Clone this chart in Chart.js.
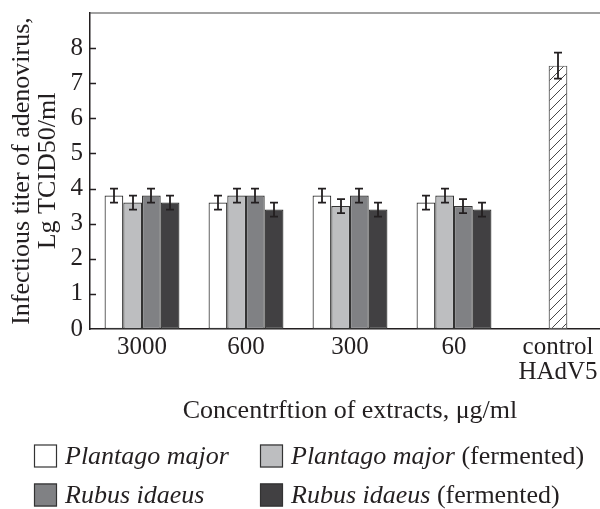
<!DOCTYPE html>
<html>
<head>
<meta charset="utf-8">
<script src="https://cdn.jsdelivr.net/npm/chart.js@4/dist/chart.umd.min.js"></script>
<style>
  html, body { margin: 0; padding: 0; background: #fff; overflow: hidden; }
  #wrap { width: 600px; height: 509px; overflow: hidden; }
  canvas { display: block; }
</style>
</head>
<body>
<div id="wrap"><canvas id="chart" width="610" height="509"></canvas></div>
<script>
// Categories and values (Lg TCID50/ml)
const categories = ['3000', '600', '300', '60', ['control', 'HAdV5']];
const plantago     = [3.8, 3.6, 3.8, 3.6, null];
const plantagoFerm = [3.6, 3.8, 3.5, 3.8, null];
const rubus        = [3.8, 3.8, 3.8, 3.5, null];
const rubusFerm    = [3.6, 3.4, 3.4, 3.4, null];
const control      = [null, null, null, null, 7.5];
const plantagoErr     = [0.2, 0.2, 0.2, 0.2, null];
const plantagoFermErr = [0.2, 0.2, 0.2, 0.2, null];
const rubusErr        = [0.2, 0.2, 0.2, 0.2, null];
const rubusFermErr    = [0.2, 0.2, 0.2, 0.2, null];
const controlErr      = [null, null, null, null, 0.37];
const yTicks = [0, 1, 2, 3, 4, 5, 6, 7, 8];

const SERIF = '"Liberation Serif", "DejaVu Serif", serif';
const INK = '#231f20';

// hatch for the control bar
function hatch() {
  const c = document.createElement('canvas');
  c.width = 10; c.height = 10;
  const g = c.getContext('2d');
  g.fillStyle = '#fff';
  g.fillRect(0, 0, 10, 10);
  g.strokeStyle = '#333';
  g.lineWidth = 0.9;
  g.beginPath();
  g.moveTo(-1, 11); g.lineTo(11, -1);
  g.moveTo(-6, 6); g.lineTo(6, -6);
  g.moveTo(4, 16); g.lineTo(16, 4);
  g.stroke();
  return g.createPattern(c, 'repeat');
}

const errs = [plantagoErr, plantagoFermErr, rubusErr, rubusFermErr, controlErr];

// error bars, inner y ticks, top frame line, legend
const extras = {
  id: 'extras',
  afterDatasetsDraw(chart) {
    const ctx = chart.ctx;
    const y = chart.scales.y;
    ctx.save();
    ctx.strokeStyle = INK;
    ctx.lineWidth = 1.8;
    chart.data.datasets.forEach((ds, i) => {
      const meta = chart.getDatasetMeta(i);
      meta.data.forEach((bar, j) => {
        const v = ds.data[j], e = errs[i][j];
        if (v == null || e == null) return;
        const x = Math.round(bar.x);
        const y1 = y.getPixelForValue(v + e), y2 = y.getPixelForValue(v - e);
        ctx.beginPath();
        ctx.moveTo(x, y1); ctx.lineTo(x, y2);
        ctx.moveTo(x - 4, y1); ctx.lineTo(x + 4, y1);
        ctx.moveTo(x - 4, y2); ctx.lineTo(x + 4, y2);
        ctx.stroke();
      });
    });
    ctx.restore();
  },
  afterDraw(chart) {
    const ctx = chart.ctx;
    const a = chart.chartArea;
    const y = chart.scales.y;
    ctx.save();
    ctx.strokeStyle = INK;
    ctx.lineWidth = 1.4;
    ctx.beginPath();
    yTicks.forEach(t => {
      if (t === 0) return;
      const py = Math.round(y.getPixelForValue(t)) + 0.5;
      ctx.moveTo(a.left, py); ctx.lineTo(a.left + 6, py);
    });
    ctx.stroke();
    ctx.strokeStyle = '#444';
    ctx.lineWidth = 1.2;
    ctx.beginPath();
    ctx.moveTo(a.left, a.top); ctx.lineTo(chart.width, a.top);
    ctx.stroke();

    // legend
    const items = [
      { ds: 0, x: 34, y: 456, it: 'Plantago major', rest: '' },
      { ds: 1, x: 260, y: 456, it: 'Plantago major', rest: ' (fermented)' },
      { ds: 2, x: 34, y: 495, it: 'Rubus idaeus', rest: '' },
      { ds: 3, x: 260, y: 495, it: 'Rubus idaeus', rest: ' (fermented)' }
    ];
    ctx.textBaseline = 'middle';
    items.forEach(o => {
      const ds = chart.data.datasets[o.ds];
      ctx.fillStyle = ds.backgroundColor;
      ctx.fillRect(o.x, o.y - 11.5, 23, 23);
      ctx.strokeStyle = '#333';
      ctx.lineWidth = 1.2;
      ctx.strokeRect(o.x + 0.5, o.y - 11, 22, 22);
      ctx.fillStyle = INK;
      ctx.font = 'italic 26px ' + SERIF;
      ctx.fillText(o.it, o.x + 31, o.y + 1);
      const w = ctx.measureText(o.it).width;
      ctx.font = '26px ' + SERIF;
      ctx.fillText(o.rest, o.x + 31 + w, o.y + 1);
    });
    ctx.restore();
  }
};

const barStyle = { borderColor: '#333', borderWidth: 1.2, borderSkipped: false,
  categoryPercentage: 0.72, barPercentage: 1.0 };

new Chart(document.getElementById('chart'), {
  type: 'bar',
  data: {
    labels: categories,
    datasets: [
      { label: 'Plantago major', data: plantago, backgroundColor: '#ffffff', ...barStyle },
      { label: 'Plantago major (fermented)', data: plantagoFerm, backgroundColor: '#bdbec0', ...barStyle },
      { label: 'Rubus idaeus', data: rubus, backgroundColor: '#808184', ...barStyle },
      { label: 'Rubus idaeus (fermented)', data: rubusFerm, backgroundColor: '#414042', ...barStyle },
      { label: 'control HAdV5', data: control, backgroundColor: hatch(), borderColor: '#555',
        borderWidth: 1.2, borderSkipped: false, grouped: false,
        categoryPercentage: 0.72, barPercentage: 0.25 }
    ]
  },
  options: {
    responsive: false,
    animation: false,
    events: [],
    layout: { padding: { top: 13, left: 0, right: 0, bottom: 0 } },
    plugins: { legend: { display: false }, tooltip: { enabled: false } },
    scales: {
      x: {
        grid: { display: false, drawTicks: false },
        border: { display: true, color: INK, width: 1.5 },
        ticks: { color: INK, padding: 5.5, maxRotation: 0, autoSkip: false,
          font: { family: SERIF, size: 25, lineHeight: 1.0 } },
        title: { display: true, text: 'Concentrftion of extracts, μg/ml', color: INK,
          font: { family: SERIF, size: 26, lineHeight: 1.2 }, padding: { top: 0, bottom: 82 } },
        afterFit(s) { s.height = 180; }
      },
      y: {
        min: 0, max: 9,
        grid: { display: false, drawTicks: false },
        border: { display: true, color: INK, width: 1.5 },
        ticks: { stepSize: 1, color: INK, padding: 7,
          callback: v => yTicks.includes(v) ? String(v) : null,
          font: { family: SERIF, size: 25, lineHeight: 0.4 } },
        title: { display: true, text: ['Infectious titer of adenovirus,', 'Lg TCID50/ml'], color: INK,
          font: { family: SERIF, size: 26, lineHeight: 1.0 }, padding: { top: 9, bottom: 0 } },
        afterFit(s) { s.width = 90; }
      }
    }
  },
  plugins: [extras]
});
</script>
</body>
</html>
